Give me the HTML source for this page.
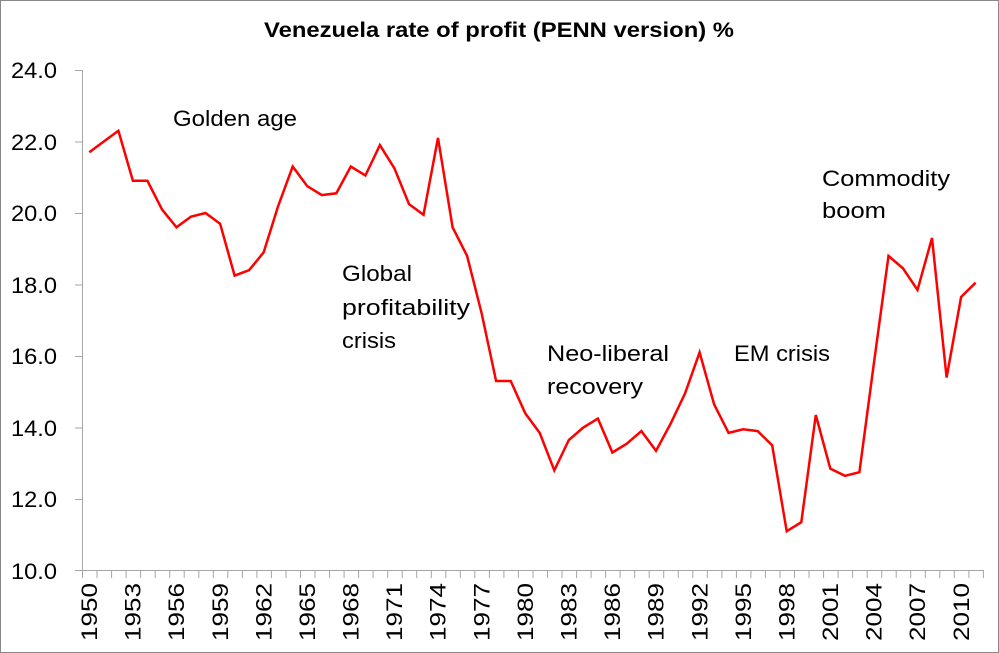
<!DOCTYPE html>
<html><head><meta charset="utf-8"><style>
html,body{margin:0;padding:0;background:#fff}
svg{display:block;font-family:"Liberation Sans",sans-serif}
</style></head><body>
<svg width="999" height="653" viewBox="0 0 999 653" xmlns="http://www.w3.org/2000/svg">
<rect x="0.5" y="0.5" width="998" height="652" fill="#fff" stroke="#888"/>
<text x="499" y="37" text-anchor="middle" font-weight="bold" font-size="21" textLength="470" lengthAdjust="spacingAndGlyphs">Venezuela rate of profit (PENN version) %</text>
<g stroke="#a6a6a6" stroke-width="1">
<line x1="82.5" y1="70" x2="82.5" y2="571"/>
<line x1="82" y1="570.5" x2="984" y2="570.5"/>
<line x1="75" y1="70.5" x2="82" y2="70.5"/>
<line x1="75" y1="142" x2="82" y2="142"/>
<line x1="75" y1="213.5" x2="82" y2="213.5"/>
<line x1="75" y1="285" x2="82" y2="285"/>
<line x1="75" y1="356.5" x2="82" y2="356.5"/>
<line x1="75" y1="428" x2="82" y2="428"/>
<line x1="75" y1="499.5" x2="82" y2="499.5"/>
<line x1="75" y1="570.5" x2="82" y2="570.5"/>
</g>
<g font-size="22" text-anchor="end">
<text x="57" y="78" textLength="46" lengthAdjust="spacingAndGlyphs">24.0</text>
<text x="57" y="150" textLength="46" lengthAdjust="spacingAndGlyphs">22.0</text>
<text x="57" y="221" textLength="46" lengthAdjust="spacingAndGlyphs">20.0</text>
<text x="57" y="293" textLength="46" lengthAdjust="spacingAndGlyphs">18.0</text>
<text x="57" y="364" textLength="46" lengthAdjust="spacingAndGlyphs">16.0</text>
<text x="57" y="436" textLength="46" lengthAdjust="spacingAndGlyphs">14.0</text>
<text x="57" y="507" textLength="46" lengthAdjust="spacingAndGlyphs">12.0</text>
<text x="57" y="579" textLength="46" lengthAdjust="spacingAndGlyphs">10.0</text>
</g>
<path stroke="#a6a6a6" fill="none" d="M82.5 571v7M97 571v7M111.6 571v7M126.1 571v7M140.6 571v7M155.2 571v7M169.7 571v7M184.2 571v7M198.8 571v7M213.3 571v7M227.8 571v7M242.4 571v7M256.9 571v7M271.4 571v7M286 571v7M300.5 571v7M315 571v7M329.5 571v7M344.1 571v7M358.6 571v7M373.1 571v7M387.7 571v7M402.2 571v7M416.7 571v7M431.3 571v7M445.8 571v7M460.3 571v7M474.8 571v7M489.4 571v7M503.9 571v7M518.4 571v7M533 571v7M547.5 571v7M562 571v7M576.6 571v7M591.1 571v7M605.6 571v7M620.1 571v7M634.7 571v7M649.2 571v7M663.7 571v7M678.3 571v7M692.8 571v7M707.3 571v7M721.9 571v7M736.4 571v7M750.9 571v7M765.4 571v7M780 571v7M794.5 571v7M809 571v7M823.6 571v7M838.1 571v7M852.6 571v7M867.2 571v7M881.7 571v7M896.2 571v7M910.7 571v7M925.3 571v7M939.8 571v7M954.3 571v7M968.9 571v7M983.4 571v7"/>
<g font-size="22" text-anchor="end">
<text transform="translate(97,583) rotate(-90)" textLength="58" lengthAdjust="spacingAndGlyphs">1950</text>
<text transform="translate(140.6,583) rotate(-90)" textLength="58" lengthAdjust="spacingAndGlyphs">1953</text>
<text transform="translate(184.2,583) rotate(-90)" textLength="58" lengthAdjust="spacingAndGlyphs">1956</text>
<text transform="translate(227.8,583) rotate(-90)" textLength="58" lengthAdjust="spacingAndGlyphs">1959</text>
<text transform="translate(271.4,583) rotate(-90)" textLength="58" lengthAdjust="spacingAndGlyphs">1962</text>
<text transform="translate(315,583) rotate(-90)" textLength="58" lengthAdjust="spacingAndGlyphs">1965</text>
<text transform="translate(358.5,583) rotate(-90)" textLength="58" lengthAdjust="spacingAndGlyphs">1968</text>
<text transform="translate(402.1,583) rotate(-90)" textLength="58" lengthAdjust="spacingAndGlyphs">1971</text>
<text transform="translate(445.7,583) rotate(-90)" textLength="58" lengthAdjust="spacingAndGlyphs">1974</text>
<text transform="translate(489.3,583) rotate(-90)" textLength="58" lengthAdjust="spacingAndGlyphs">1977</text>
<text transform="translate(532.9,583) rotate(-90)" textLength="58" lengthAdjust="spacingAndGlyphs">1980</text>
<text transform="translate(576.5,583) rotate(-90)" textLength="58" lengthAdjust="spacingAndGlyphs">1983</text>
<text transform="translate(620.1,583) rotate(-90)" textLength="58" lengthAdjust="spacingAndGlyphs">1986</text>
<text transform="translate(663.7,583) rotate(-90)" textLength="58" lengthAdjust="spacingAndGlyphs">1989</text>
<text transform="translate(707.3,583) rotate(-90)" textLength="58" lengthAdjust="spacingAndGlyphs">1992</text>
<text transform="translate(750.9,583) rotate(-90)" textLength="58" lengthAdjust="spacingAndGlyphs">1995</text>
<text transform="translate(794.4,583) rotate(-90)" textLength="58" lengthAdjust="spacingAndGlyphs">1998</text>
<text transform="translate(838,583) rotate(-90)" textLength="58" lengthAdjust="spacingAndGlyphs">2001</text>
<text transform="translate(881.6,583) rotate(-90)" textLength="58" lengthAdjust="spacingAndGlyphs">2004</text>
<text transform="translate(925.2,583) rotate(-90)" textLength="58" lengthAdjust="spacingAndGlyphs">2007</text>
<text transform="translate(968.8,583) rotate(-90)" textLength="58" lengthAdjust="spacingAndGlyphs">2010</text>
</g>
<polyline fill="none" stroke="#ff0000" stroke-width="2.5" stroke-linejoin="miter" points="89.3,152.2 103.8,141.5 118.4,130.8 132.9,180.8 147.4,180.8 162,209.4 176.5,227.3 191,216.6 205.5,213 220.1,223.7 234.6,275.6 249.1,270.2 263.7,252.3 278.2,205.9 292.7,166.5 307.3,186.2 321.8,195.1 336.3,193.3 350.8,166.5 365.4,175.5 379.9,145.1 394.4,168.3 409,204.1 423.5,214.8 438,137.9 452.6,227.3 467.1,255.9 481.6,313.1 496.1,381 510.7,381 525.2,413.2 539.7,432.9 554.3,470.4 568.8,440 583.3,427.5 597.9,418.6 612.4,452.5 626.9,443.6 641.4,431.1 656,450.8 670.5,423.9 685,393.5 699.6,352.4 714.1,404.3 728.6,432.9 743.2,429.3 757.7,431.1 772.2,445.4 786.7,531.2 801.3,522.2 815.8,415 830.3,468.6 844.9,475.8 859.4,472.2 873.9,363.2 888.5,255.9 903,268.4 917.5,289.9 932,238 946.6,377.5 961.1,297 975.6,282.7"/>
<g font-size="22">
<text x="173" y="126" textLength="124" lengthAdjust="spacingAndGlyphs">Golden age</text>
<text x="342" y="281" textLength="70" lengthAdjust="spacingAndGlyphs">Global</text>
<text x="342" y="315" textLength="128" lengthAdjust="spacingAndGlyphs">profitability</text>
<text x="342" y="348" textLength="54" lengthAdjust="spacingAndGlyphs">crisis</text>
<text x="547" y="361" textLength="122" lengthAdjust="spacingAndGlyphs">Neo-liberal</text>
<text x="547" y="394" textLength="96" lengthAdjust="spacingAndGlyphs">recovery</text>
<text x="734" y="361" textLength="96" lengthAdjust="spacingAndGlyphs">EM crisis</text>
<text x="822" y="186" textLength="128" lengthAdjust="spacingAndGlyphs">Commodity</text>
<text x="822" y="218" textLength="64" lengthAdjust="spacingAndGlyphs">boom</text>
</g>
</svg>
</body></html>
